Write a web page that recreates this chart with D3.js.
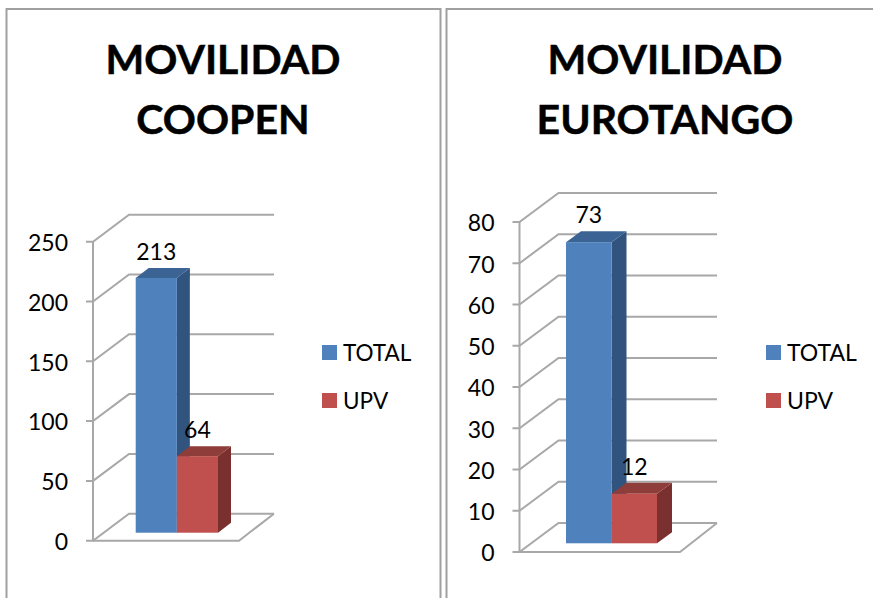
<!DOCTYPE html>
<html lang="es">
<head>
<meta charset="utf-8">
<title>Movilidad</title>
<script src="https://cdn.jsdelivr.net/npm/d3@7/dist/d3.min.js"></script>
<style>
  body { margin: 0; background: #fff; }
  svg { display: block; }
  text { font-family: Lato, "Open Sans", sans-serif; fill: #000; }
  .wall { fill: none; stroke: #a8a8a8; stroke-width: 2; }
  .title { stroke: #000; stroke-width: 0.5; }
</style>
</head>
<body>
<script>
var categories = ["TOTAL", "UPV"];
var coopenValues = [213, 64];
var eurotangoValues = [73, 12];
var coopenTicks = [0, 50, 100, 150, 200, 250];
var eurotangoTicks = [0, 10, 20, 30, 40, 50, 60, 70, 80];
var coopenTitle = ["MOVILIDAD", "COOPEN"];
var eurotangoTitle = ["MOVILIDAD", "EUROTANGO"];

var fronts = ["#4f81bd", "#c0504d"];
var tops = ["#3b6494", "#8f3d3a"];
var sides = ["#31547e", "#7a302e"];

var w = 873, h = 598;
var svg = d3.select("body").append("svg").attr("width", w).attr("height", h);

// panel frames
svg.append("path")
  .attr("d", "M6.5,598V9H440.5V598")
  .attr("fill", "none").attr("stroke", "#a0a0a0").attr("stroke-width", 2);
svg.append("path")
  .attr("d", "M446.5,598V9H873")
  .attr("fill", "none").attr("stroke", "#a0a0a0").attr("stroke-width", 2);

function drawChart(c) {
  var g = svg.append("g");
  var y = d3.scaleLinear().domain([0, c.max]).range([c.y0, c.yTop]);
  var x = d3.scaleBand().domain(categories).range([c.barL, c.barR]);

  // title
  g.selectAll("text.title").data(c.title).enter().append("text")
    .attr("class", "title")
    .attr("x", c.titleX)
    .attr("y", function(d, i) { return 74 + i * 59.5; })
    .attr("text-anchor", "middle")
    .attr("font-size", 41).attr("font-weight", 700)
    .text(function(d) { return d; });

  // back wall gridlines with side wall diagonals
  g.selectAll("path.grid").data(c.ticks).enter().append("path")
    .attr("class", "wall grid")
    .attr("d", function(d) {
      var p = y(d);
      return "M" + (c.x0 - 7) + "," + p + "H" + c.x0 + "l" + c.dx + "," + (-c.dy) + "H" + c.backR;
    });
  g.append("path").attr("class", "wall")
    .attr("d", "M" + c.x0 + "," + y(0) + "V" + y(c.max));
  // floor
  g.append("path").attr("class", "wall")
    .attr("d", "M" + c.x0 + "," + y(0) + "H" + c.floorR + "L" + c.backR + "," + (y(0) - c.dy));

  // tick labels
  g.selectAll("text.tick").data(c.ticks).enter().append("text")
    .attr("class", "tick")
    .attr("x", c.x0 - 25)
    .attr("y", function(d) { return y(d) + 9.3; })
    .attr("text-anchor", "end")
    .attr("font-size", 23)
    .text(function(d) { return d; });

  // bars: draw tall one first, the other one overlaps its side
  c.values.forEach(function(v, i) {
    var name = categories[i];
    var l = x(name), r = l + x.bandwidth(), t = y(v) - c.lift, b = y(0) - c.lift;
    g.append("path").attr("fill", sides[i])
      .attr("d", "M" + r + "," + t + "l" + c.bdx + "," + (-c.bdy) + "V" + (b - c.bdy) + "L" + r + "," + b + "Z");
    g.append("path").attr("fill", tops[i])
      .attr("d", "M" + l + "," + t + "l" + c.bdx + "," + (-c.bdy) + "H" + (r + c.bdx) + "L" + r + "," + t + "Z");
    g.append("rect").attr("fill", fronts[i])
      .attr("x", l).attr("y", t).attr("width", x.bandwidth()).attr("height", b - t);
    g.append("text")
      .attr("x", (l + r) / 2)
      .attr("y", t - c.bdy - 8)
      .attr("text-anchor", "middle")
      .attr("font-size", 23)
      .text(v);
  });

  // legend
  categories.forEach(function(name, i) {
    g.append("rect").attr("fill", fronts[i])
      .attr("x", c.legendX).attr("y", 345 + i * 48).attr("width", 15).attr("height", 15);
    g.append("text")
      .attr("x", c.legendX + 21).attr("y", 361 + i * 48)
      .attr("font-size", c.legendSize)
      .text(name);
  });
}

drawChart({
  title: coopenTitle, titleX: 223, values: coopenValues, ticks: coopenTicks, max: 250,
  x0: 93, y0: 540.7, yTop: 241.7, dx: 36, dy: 27, floorR: 239, backR: 274,
  barL: 135.7, barR: 218, lift: 8, bdx: 13, bdy: 10, legendX: 322, legendSize: 22.5
});
drawChart({
  title: eurotangoTitle, titleX: 665, values: eurotangoValues, ticks: eurotangoTicks, max: 80,
  x0: 519.5, y0: 552, yTop: 222, dx: 39, dy: 29, floorR: 680, backR: 717,
  barL: 566, barR: 657, lift: 8.7, bdx: 15, bdy: 11, legendX: 766, legendSize: 23
});
</script>
</body>
</html>
